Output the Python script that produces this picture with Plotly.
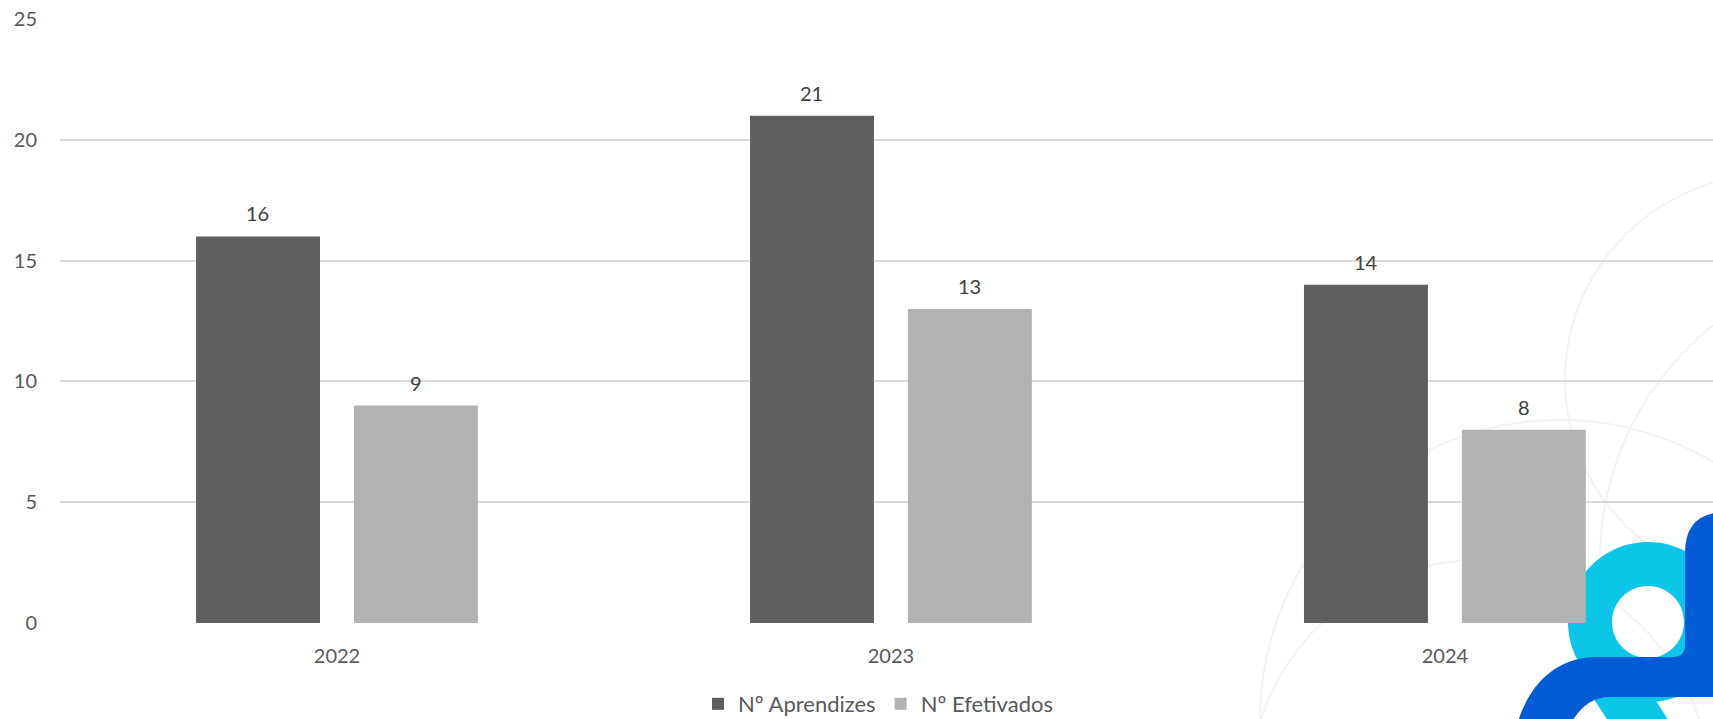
import plotly.graph_objects as go

# Data
years = ["2022", "2023", "2024"]
aprendizes = [16, 21, 14]
efetivados = [9, 13, 8]
series_names = ["Nº Aprendizes", "Nº Efetivados"]
y_ticks = [0, 5, 10, 15, 20, 25]

W, H = 1713, 719
ML, MR, MT, MB = 60, 0, 19, 96
PW, PH = W - ML - MR, H - MT - MB

FONT = "Lato, 'Open Sans', sans-serif"
AXIS_GREY = "#595959"
LABEL_GREY = "#404040"
CYAN = "#0cc6e8"
BLUE = "#045bd6"
FAINT = "#f3f3f3"

BAR_OFFSET_PX = 79  # horizontal distance from category centre to each bar centre
K = 0.5523          # cubic Bezier circle constant


def px(x, y):
    """Convert page pixel coordinates to paper coordinates."""
    return (x - ML) / PW, (H - MB - y) / PH


def fmt(pt):
    X, Y = px(*pt)
    return f"{X:.5f},{Y:.5f}"


def build(cmds):
    """cmds: list of (letter, points...) in page pixels -> paper path string."""
    parts = []
    for cmd, *pts in cmds:
        parts.append(cmd + " ".join(fmt(p) for p in pts))
    return " ".join(parts)


def circle_cmds(cx, cy, r, reverse=False):
    k = K * r
    if not reverse:
        return [
            ("M", (cx + r, cy)),
            ("C", (cx + r, cy + k), (cx + k, cy + r), (cx, cy + r)),
            ("C", (cx - k, cy + r), (cx - r, cy + k), (cx - r, cy)),
            ("C", (cx - r, cy - k), (cx - k, cy - r), (cx, cy - r)),
            ("C", (cx + k, cy - r), (cx + r, cy - k), (cx + r, cy)),
            ("Z",),
        ]
    return [
        ("M", (cx + r, cy)),
        ("C", (cx + r, cy - k), (cx + k, cy - r), (cx, cy - r)),
        ("C", (cx - k, cy - r), (cx - r, cy - k), (cx - r, cy)),
        ("C", (cx - r, cy + k), (cx - k, cy + r), (cx, cy + r)),
        ("C", (cx + k, cy + r), (cx + r, cy + k), (cx + r, cy)),
        ("Z",),
    ]


def ring(cx, cy, r_out, r_in, color):
    return dict(type="path", xref="paper", yref="paper",
                path=build(circle_cmds(cx, cy, r_out) + circle_cmds(cx, cy, r_in, True)),
                fillcolor=color, fillrule="evenodd", line=dict(width=0), layer="below")


def outline(cx, cy, r, color, width=2):
    return dict(type="path", xref="paper", yref="paper",
                path=build(circle_cmds(cx, cy, r)),
                fillcolor="rgba(0,0,0,0)", line=dict(color=color, width=width),
                layer="below")


fig = go.Figure()
fig.add_bar(x=years, y=aprendizes, name=series_names[0],
            marker=dict(color="#5f5f5f", line=dict(width=0)))
fig.add_bar(x=years, y=efetivados, name=series_names[1],
            marker=dict(color="#b2b2b2", line=dict(width=0)))

# value labels above each bar
for i, v in enumerate(aprendizes):
    fig.add_annotation(x=i, y=v, text=str(v), showarrow=False, yshift=23,
                       xshift=-BAR_OFFSET_PX,
                       font=dict(family=FONT, size=20, color=LABEL_GREY))
for i, v in enumerate(efetivados):
    fig.add_annotation(x=i, y=v, text=str(v), showarrow=False, yshift=23,
                       xshift=BAR_OFFSET_PX,
                       font=dict(family=FONT, size=20, color=LABEL_GREY))

shapes = []

# faint watermark arcs
shapes.append(outline(1770, 380, 205, FAINT))
shapes.append(outline(1560, 720, 300, FAINT))
shapes.append(outline(1480, 790, 230, FAINT))
shapes.append(outline(1900, 560, 300, FAINT))

# logo: cyan ring with tail
shapes.append(ring(1648, 622, 80, 36, CYAN))
tail = build([
    ("M", (1588, 690)),
    ("L", (1630, 660)),
    ("L", (1700, 770)),
    ("L", (1640, 770)),
    ("Z",),
])
shapes.append(dict(type="path", xref="paper", yref="paper", path=tail,
                   fillcolor=CYAN, line=dict(width=0), layer="below"))

# logo: blue band
blue_path = build([
    ("M", (1685, 645)),
    ("L", (1685, 553)),
    ("Q", (1685, 512), (1726, 512)),
    ("L", (1780, 512)),
    ("L", (1780, 697)),
    ("L", (1610, 697)),
    ("Q", (1585, 697), (1570, 725)),
    ("L", (1517, 725)),
    ("C", (1530, 680), (1560, 657), (1597, 657)),
    ("L", (1673, 657)),
    ("Q", (1685, 657), (1685, 645)),
    ("Z",),
])
shapes.append(dict(type="path", xref="paper", yref="paper", path=blue_path,
                   fillcolor=BLUE, line=dict(width=0), layer="below"))

lg_x, lg_y = px(878, 704)

fig.update_layout(
    width=W, height=H,
    margin=dict(l=ML, r=MR, t=MT, b=MB, pad=0, autoexpand=False),
    paper_bgcolor="white",
    plot_bgcolor="rgba(0,0,0,0)",
    barmode="group",
    bargap=0.43,
    bargroupgap=0.215,
    font=dict(family=FONT, size=20, color=AXIS_GREY),
    shapes=shapes,
    showlegend=True,
    legend=dict(orientation="h", x=lg_x, xanchor="center", y=lg_y,
                yanchor="middle", font=dict(family=FONT, size=22, color=AXIS_GREY),
                bgcolor="rgba(0,0,0,0)", itemwidth=30, traceorder="normal"),
    xaxis=dict(type="category", range=[-0.5, 2.484], showgrid=False,
               showline=False, zeroline=False, ticks="", ticklabelstandoff=19,
               automargin=False,
               tickfont=dict(family=FONT, size=20, color=AXIS_GREY)),
    yaxis=dict(range=[0, 25], tickvals=y_ticks, showgrid=True,
               gridcolor="#d9d9d9", gridwidth=1.5, zeroline=False,
               showline=False, ticks="", ticklabelstandoff=22, automargin=False,
               tickfont=dict(family=FONT, size=20, color=AXIS_GREY)),
)

fig.write_html("out.html")
